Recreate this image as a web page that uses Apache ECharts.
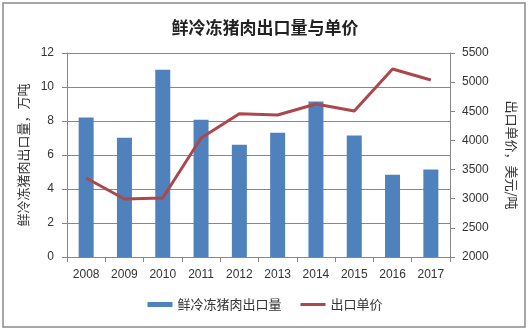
<!DOCTYPE html>
<html>
<head>
<meta charset="utf-8">
<script src="https://cdn.jsdelivr.net/npm/echarts@6/dist/echarts.min.js"></script>
<style>
  html, body { margin: 0; padding: 0; background: #fff; }
  #chart { width: 530px; height: 331px; }
</style>
</head>
<body>
<div id="chart"></div>
<script>
// Years on the category axis
var years = ['2008', '2009', '2010', '2011', '2012', '2013', '2014', '2015', '2016', '2017'];
// Fresh/frozen pork export volume (10k tonnes)
var exportVolume = [8.2, 7.02, 11.02, 8.08, 6.61, 7.31, 9.14, 7.14, 4.84, 5.14];
// Export unit price (USD per tonne)
var unitPrice = [3355, 2995, 3012, 4042, 4459, 4436, 4625, 4505, 5226, 5037];

var FONT = '"Noto Sans CJK SC", "Liberation Sans", sans-serif';
var NUM_FONT = '"Liberation Sans", sans-serif';
var GRID_COLOR = '#878787';
var TEXT_COLOR = '#333';
var LINE_COLOR = '#AC474B';

var chart = echarts.init(document.getElementById('chart'));
chart.setOption({
  backgroundColor: '#fff',
  animation: false,
  title: {
    text: '鲜冷冻猪肉出口量与单价',
    left: 'center',
    top: 14,
    textStyle: { fontFamily: FONT, fontSize: 17, fontWeight: 'bold', color: '#222' }
  },
  graphic: [{
    type: 'rect',
    shape: { x: 3, y: 3, width: 522, height: 324 },
    style: { fill: null, stroke: '#8a8a8a', lineWidth: 1.5 },
    silent: true
  }],
  legend: {
    bottom: 15,
    left: 'center',
    itemGap: 19,
    itemWidth: 25,
    itemHeight: 5,
    textStyle: { fontFamily: FONT, fontSize: 13, color: TEXT_COLOR },
    data: [
      { name: '鲜冷冻猪肉出口量', icon: 'rect' },
      { name: '出口单价', icon: 'path://M0,0H25V3H0Z', itemStyle: { color: LINE_COLOR } }
    ]
  },
  grid: { left: 67, right: 80, top: 53, bottom: 74 },
  xAxis: {
    type: 'category',
    data: years,
    boundaryGap: true,
    axisLine: { lineStyle: { color: GRID_COLOR, width: 1 } },
    axisTick: { show: true, length: 5, lineStyle: { color: GRID_COLOR } },
    axisLabel: { margin: 12, fontFamily: NUM_FONT, fontSize: 12, color: TEXT_COLOR }
  },
  yAxis: [{
    type: 'value',
    min: 0,
    max: 12,
    interval: 2,
    name: '鲜冷冻猪肉出口量，万吨',
    nameLocation: 'middle',
    nameRotate: 90,
    nameGap: 37,
    nameTextStyle: { fontFamily: FONT, fontSize: 13, color: TEXT_COLOR },
    axisLine: { show: true, lineStyle: { color: GRID_COLOR } },
    axisTick: { show: true, length: 5, lineStyle: { color: GRID_COLOR } },
    axisLabel: { margin: 13, fontFamily: NUM_FONT, fontSize: 12, color: TEXT_COLOR },
    splitLine: { show: true, lineStyle: { color: GRID_COLOR, width: 1 } }
  }, {
    type: 'value',
    min: 2000,
    max: 5500,
    interval: 500,
    name: '出口单价，美元/吨',
    nameLocation: 'middle',
    nameRotate: -90,
    nameGap: 55,
    nameTextStyle: { fontFamily: FONT, fontSize: 13, color: TEXT_COLOR, padding: [24, 0, 0, 0] },
    axisLine: { show: true, lineStyle: { color: GRID_COLOR } },
    axisTick: { show: true, length: 5, lineStyle: { color: GRID_COLOR } },
    axisLabel: {
      margin: 12, fontFamily: NUM_FONT, fontSize: 12, color: TEXT_COLOR,
      formatter: function (v) { return String(v); }
    },
    splitLine: { show: false }
  }],
  series: [{
    name: '鲜冷冻猪肉出口量',
    type: 'bar',
    yAxisIndex: 0,
    data: exportVolume,
    barWidth: 15,
    itemStyle: { color: '#4F81BD' }
  }, {
    name: '出口单价',
    type: 'line',
    yAxisIndex: 1,
    data: unitPrice,
    symbol: 'none',
    lineStyle: { color: LINE_COLOR, width: 3 },
    itemStyle: { color: LINE_COLOR }
  }]
});
</script>
</body>
</html>
